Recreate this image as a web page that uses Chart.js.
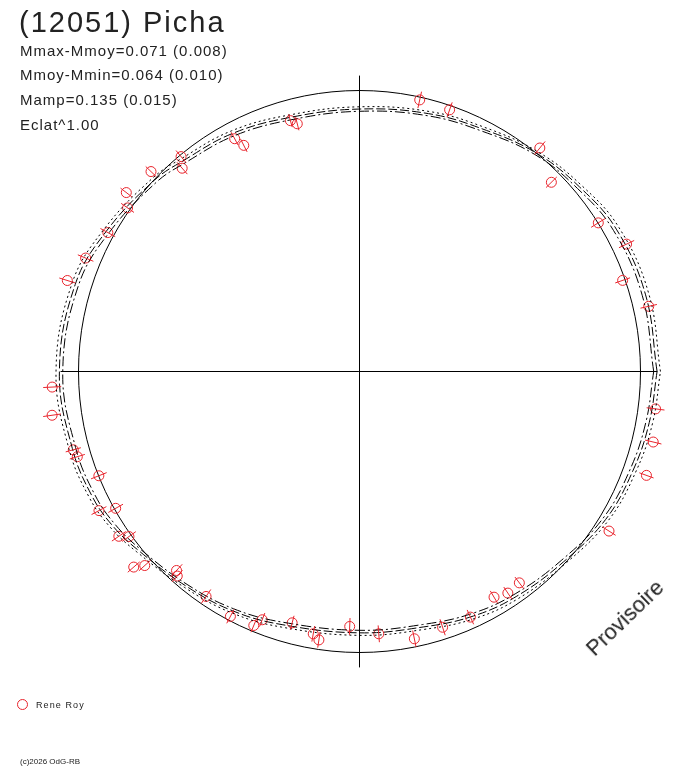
<!DOCTYPE html>
<html>
<head>
<meta charset="utf-8">
<script src="https://cdn.jsdelivr.net/npm/chart.js@4.4.1/dist/chart.umd.min.js"></script>
<style>
body{margin:0;background:#fff;font-family:"Liberation Sans",Arial,sans-serif;color:#222}
#wrap{position:relative;width:688px;height:768px;overflow:hidden}
canvas{position:absolute;left:0;top:0}
.t{position:absolute;white-space:nowrap}
.stat{font-size:15px;line-height:24.7px;letter-spacing:1px}
</style>
</head>
<body>
<div id="wrap">
<canvas id="polar" width="688" height="768"></canvas>
<div class="t" style="left:19px;top:8px;font-size:29px;line-height:29px;letter-spacing:2px">(12051) Picha</div>
<div class="t stat" style="left:20px;top:38.5px">Mmax-Mmoy=0.071 (0.008)<br>Mmoy-Mmin=0.064 (0.010)<br>Mamp=0.135 (0.015)<br>Eclat^1.00</div>
<div class="t" style="left:560px;top:607px;width:130px;height:22px;line-height:22px;font-size:22px;text-align:center;transform:rotate(-44deg)">Provisoire</div>
<div class="t" style="left:17px;top:699px;width:9px;height:9px;border:1px solid #e8242c;border-radius:50%"></div>
<div class="t" style="left:36px;top:700px;font-size:9px;line-height:11px;letter-spacing:1.1px">Rene Roy</div>
<div class="t" style="left:20px;top:757px;font-size:8px;line-height:10px">(c)2026 OdG-RB</div>
</div>
<script>
// measurements: phase angle (deg) and radius (1 = mean magnitude circle)
const phaseDeg = [77.5, 71.0, 51.1, 44.6, 31.9, 25.5, 19.1, 12.7,
  352.8, 346.5, 340.1, 327.4, 307.1, 303.8, 300.8, 294.3, 288.0, 281.6, 274.2,
  267.8, 261.4, 260.0, 255.0, 248.6, 247.4, 242.2, 235.7, 227.4, 228.3, 222.1, 220.9,
  215.6, 214.4, 209.3, 208.1, 201.8, 196.8, 195.3, 188.1, 182.9,
  162.7, 157.5, 151.1, 144.8, 142.5, 136.2, 129.7, 131.1, 118.2, 117.1, 105.4, 104.1];
const radius = [0.990, 0.985, 1.022, 0.959, 1.001, 1.053, 0.991, 1.055,
  1.062, 1.075, 1.086, 1.054, 0.943, 0.949, 0.935, 0.959, 0.957, 0.971, 0.936,
  0.908, 0.966, 0.948, 0.926, 0.949, 0.979, 0.985, 0.969, 0.962, 0.975, 1.030, 1.063,
  1.009, 1.038, 0.995, 1.051, 0.999, 1.049, 1.056, 1.105, 1.095,
  1.089, 1.055, 1.023, 1.010, 1.046, 1.028, 0.994, 0.960, 0.940, 0.904, 0.926, 0.909];
const errBar = [0.030, 0.028, 0.030, 0.027, 0.030, 0.030, 0.028, 0.030,
  0.032, 0.030, 0.027, 0.028, 0.026, 0.026, 0.026, 0.028, 0.030, 0.030, 0.030,
  0.030, 0.028, 0.028, 0.026, 0.026, 0.026, 0.028, 0.030, 0.030, 0.028, 0.028, 0.028,
  0.030, 0.030, 0.030, 0.030, 0.030, 0.028, 0.028, 0.032, 0.032,
  0.030, 0.030, 0.030, 0.028, 0.026, 0.026, 0.028, 0.028, 0.026, 0.026, 0.024, 0.024];

// fitted lightcurve and its envelope, sampled at modelDeg
const modelDeg = [0, 15, 29, 40, 51, 63, 75, 90, 105, 118, 130, 137, 151, 163, 180,
  195, 205, 212, 219, 231, 242, 253, 270, 284, 295, 305, 317, 329, 340, 350];
const modelMid = [1.059, 1.054, 1.045, 1.022, 1.000, 0.968, 0.950, 0.934, 0.937, 0.960, 0.978, 0.998, 1.030, 1.058, 1.068,
  1.058, 1.050, 1.036, 1.012, 0.982, 0.964, 0.942, 0.930, 0.937, 0.960, 0.976, 0.993, 1.022, 1.035, 1.047];
const modelHi = [1.071, 1.066, 1.056, 1.031, 1.007, 0.976, 0.958, 0.942, 0.946, 0.970, 0.988, 1.008, 1.041, 1.070, 1.080,
  1.070, 1.061, 1.046, 1.020, 0.989, 0.972, 0.951, 0.939, 0.946, 0.970, 0.986, 1.002, 1.032, 1.046, 1.059];
const modelLo = [1.047, 1.042, 1.034, 1.013, 0.993, 0.960, 0.942, 0.926, 0.928, 0.950, 0.968, 0.988, 1.019, 1.046, 1.056,
  1.046, 1.039, 1.026, 1.004, 0.975, 0.956, 0.933, 0.921, 0.928, 0.950, 0.966, 0.984, 1.012, 1.024, 1.035];

const RED = '#e8242c';
const INK = '#000';

function toXY(deg, r) {
  const a = deg * Math.PI / 180;
  return {x: r * Math.cos(a), y: r * Math.sin(a)};
}

function curve(rs, dash) {
  const pts = modelDeg.map((d, i) => toXY(d, rs[i]));
  pts.push(pts[0]);
  return {data: pts, showLine: true, borderColor: INK, borderWidth: 1, borderDash: dash,
    pointRadius: 0, tension: 0.4, fill: false};
}

// mean magnitude circle, drawn through the scales
const refCircle = {
  id: 'refCircle',
  beforeDatasetsDraw(chart) {
    const sx = chart.scales.x, sy = chart.scales.y, ctx = chart.ctx;
    const cx = sx.getPixelForValue(0), cy = sy.getPixelForValue(0);
    const r = sx.getPixelForValue(1) - cx;
    ctx.save();
    ctx.strokeStyle = INK;
    ctx.lineWidth = 1;
    ctx.beginPath();
    ctx.arc(cx, cy, r, 0, Math.PI * 2);
    ctx.stroke();
    ctx.restore();
  }
};

// radial error bars
const errorBars = {
  id: 'errorBars',
  afterDatasetsDraw(chart) {
    const sx = chart.scales.x, sy = chart.scales.y, ctx = chart.ctx;
    ctx.save();
    ctx.strokeStyle = RED;
    ctx.lineWidth = 1;
    phaseDeg.forEach((d, i) => {
      const a = toXY(d, radius[i] - errBar[i]);
      const b = toXY(d, radius[i] + errBar[i]);
      ctx.beginPath();
      ctx.moveTo(sx.getPixelForValue(a.x), sy.getPixelForValue(a.y));
      ctx.lineTo(sx.getPixelForValue(b.x), sy.getPixelForValue(b.y));
      ctx.stroke();
    });
    ctx.restore();
  }
};

const points = phaseDeg.map((d, i) => toXY(d, radius[i]));

new Chart(document.getElementById('polar'), {
  type: 'scatter',
  data: {
    datasets: [
      {data: [{x: -1.064, y: 0}, {x: 1.06, y: 0}], showLine: true, borderColor: INK, borderWidth: 1, pointRadius: 0},
      {data: [{x: 0, y: -1.053}, {x: 0, y: 1.053}], showLine: true, borderColor: INK, borderWidth: 1, pointRadius: 0},
      curve(modelHi, [2, 3]),
      curve(modelMid, [9, 3]),
      curve(modelLo, [10, 3, 2, 3]),
      {data: points, pointStyle: 'circle', pointRadius: 5, borderColor: RED,
        backgroundColor: 'rgba(0,0,0,0)', borderWidth: 1}
    ]
  },
  options: {
    responsive: false,
    animation: false,
    events: [],
    layout: {padding: 0, autoPadding: false},
    plugins: {legend: {display: false}, tooltip: {enabled: false}},
    scales: {
      x: {type: 'linear', min: -359.5 / 281, max: 328.5 / 281, display: false},
      y: {type: 'linear', min: -396.5 / 281, max: 371.5 / 281, display: false}
    }
  },
  plugins: [refCircle, errorBars]
});
</script>
</body>
</html>
